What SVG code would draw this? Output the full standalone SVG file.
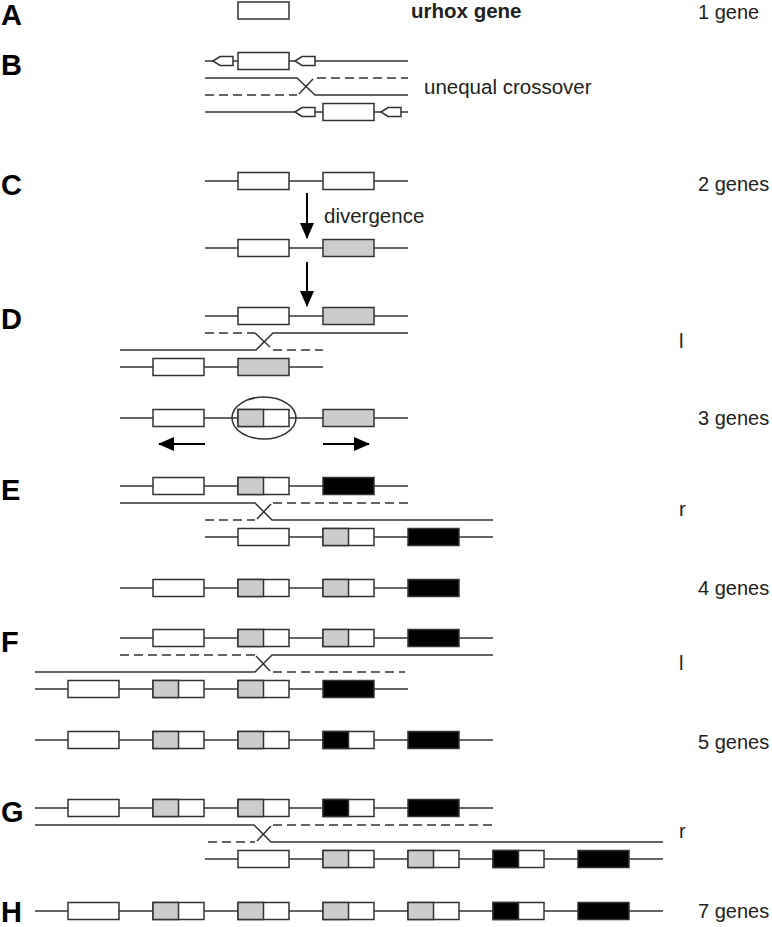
<svg xmlns="http://www.w3.org/2000/svg" xmlns:xlink="http://www.w3.org/1999/xlink" width="772" height="927" viewBox="0 0 772 927">
<style>
  .ln { stroke:#333; stroke-width:1.5; fill:none; }
  .ds { stroke:#333; stroke-width:1.5; fill:none; stroke-dasharray:9,5; }
  .w { fill:#fff; stroke:#333; stroke-width:1.5; }
  .g { fill:#ccc; stroke:#333; stroke-width:1.5; }
  .b { fill:#000; stroke:#333; stroke-width:1.5; }
  .let { font-family:"Liberation Sans", Arial, sans-serif; font-weight:bold; font-size:29px; fill:#000; }
  .lab { font-family:"Liberation Sans", Arial, sans-serif; font-size:20.5px; fill:#222; }
  .rl { font-family:"Liberation Sans", Arial, sans-serif; font-size:20px; fill:#222; }
  .arr { stroke:#000; stroke-width:2; fill:none; }
</style>
<defs>
  <marker id="ah" viewBox="0 0 16 14" refX="15" refY="7" markerWidth="16" markerHeight="14" markerUnits="userSpaceOnUse" orient="auto">
    <path d="M0,0 L16,7 L0,14 Z" fill="#000"/>
  </marker>
  <path id="pent" d="M0,0 L7,-4.5 L20,-4.5 L20,4.5 L7,4.5 Z" fill="#fff" stroke="#333" stroke-width="1.5"/>
  <rect id="bw" x="0" y="-8.5" width="51" height="17" class="w"/>
  <rect id="bg" x="0" y="-8.5" width="51" height="17" class="g"/>
  <rect id="bb" x="0" y="-8.5" width="51" height="17" class="b"/>
  <g id="bgw"><rect x="0" y="-8.5" width="51" height="17" class="w"/><rect x="0" y="-8.5" width="25.5" height="17" class="g"/></g>
  <g id="bbw"><rect x="0" y="-8.5" width="51" height="17" class="w"/><rect x="0" y="-8.5" width="25.5" height="17" class="b"/></g>
</defs>

<g id="letters">
  <text class="let" x="1" y="25">A</text>
  <text class="let" x="1" y="75">B</text>
  <text class="let" x="1" y="195">C</text>
  <text class="let" x="1" y="329">D</text>
  <text class="let" x="1" y="500">E</text>
  <text class="let" x="1" y="652">F</text>
  <text class="let" x="1" y="822">G</text>
  <text class="let" x="1" y="922">H</text>
</g>

<g id="labels">
  <text class="lab" x="411" y="18" font-weight="bold" font-size="21">urhox gene</text>
  <text class="rl" x="698" y="19">1 gene</text>
  <text class="lab" x="424" y="94">unequal crossover</text>
  <text class="rl" x="698" y="191">2 genes</text>
  <text class="lab" x="324" y="223">divergence</text>
  <text class="rl" x="679" y="348">l</text>
  <text class="rl" x="698" y="425">3 genes</text>
  <text class="rl" x="679" y="516">r</text>
  <text class="rl" x="698" y="595">4 genes</text>
  <text class="rl" x="679" y="670">l</text>
  <text class="rl" x="698" y="749">5 genes</text>
  <text class="rl" x="679" y="838">r</text>
  <text class="rl" x="698" y="918">7 genes</text>
</g>

<g id="connectors">
  <path class="ln" d="M205,78 H297 L315,95 H408"/>
  <path class="ds" d="M205,95 H297"/>
  <path class="ln" d="M299,94 L313,79"/>
  <path class="ds" d="M317,78 H408"/>
  <line class="arr" x1="307" y1="193" x2="307" y2="238" marker-end="url(#ah)"/>
  <line class="arr" x1="307" y1="262" x2="307" y2="306" marker-end="url(#ah)"/>
  <path class="ds" d="M205,333 H255"/>
  <path class="ln" d="M255,333 L270,347"/>
  <path class="ds" d="M273,350 H323"/>
  <path class="ln" d="M120,350 H256 L273,333 H408"/>
  <line class="arr" x1="205" y1="444" x2="159" y2="444" marker-end="url(#ah)"/>
  <line class="arr" x1="323" y1="444" x2="369" y2="444" marker-end="url(#ah)"/>
  <path class="ln" d="M120,503 H255 L272,520 H493"/>
  <path class="ds" d="M205,520 H255"/>
  <path class="ln" d="M257,519 L271,504"/>
  <path class="ds" d="M273,503 H408"/>
  <path class="ds" d="M120,655 H255"/>
  <path class="ln" d="M256,656 L270,671"/>
  <path class="ds" d="M273,672 H405"/>
  <path class="ln" d="M35,672 H255 L272,655 H493"/>
  <path class="ln" d="M35,825 H254 L271,842 H663"/>
  <path class="ds" d="M208,842 H255"/>
  <path class="ln" d="M257,841 L271,826"/>
  <path class="ds" d="M273,825 H493"/>
</g>

<g id="rowA">
  <rect x="238" y="2" width="51" height="17" class="w"/>
</g>

<g id="rowB1">
  <line class="ln" x1="205" y1="61" x2="408" y2="61"/>
  <use xlink:href="#pent" x="213" y="61"/>
  <use xlink:href="#bw" x="238" y="61"/>
  <use xlink:href="#pent" x="295" y="61"/>
</g>
<g id="rowB3">
  <line class="ln" x1="205" y1="112" x2="408" y2="112"/>
  <use xlink:href="#pent" x="295" y="112"/>
  <use xlink:href="#bw" x="323" y="112"/>
  <use xlink:href="#pent" x="381" y="112"/>
</g>

<g id="rowC1">
  <line class="ln" x1="205" y1="181" x2="408" y2="181"/>
  <use xlink:href="#bw" x="238" y="181"/>
  <use xlink:href="#bw" x="323" y="181"/>
</g>
<g id="rowC2">
  <line class="ln" x1="205" y1="248" x2="408" y2="248"/>
  <use xlink:href="#bw" x="238" y="248"/>
  <use xlink:href="#bg" x="323" y="248"/>
</g>

<g id="rowD1">
  <line class="ln" x1="205" y1="316" x2="408" y2="316"/>
  <use xlink:href="#bw" x="238" y="316"/>
  <use xlink:href="#bg" x="323" y="316"/>
</g>
<g id="rowD3">
  <line class="ln" x1="120" y1="367" x2="323" y2="367"/>
  <use xlink:href="#bw" x="153" y="367"/>
  <use xlink:href="#bg" x="238" y="367"/>
</g>
<g id="rowD4">
  <line class="ln" x1="120" y1="418" x2="408" y2="418"/>
  <use xlink:href="#bw" x="153" y="418"/>
  <use xlink:href="#bgw" x="238" y="418"/>
  <use xlink:href="#bg" x="323" y="418"/>
  <ellipse cx="264" cy="418" rx="32" ry="21" class="ln"/>
</g>

<g id="rowE1">
  <line class="ln" x1="120" y1="486" x2="408" y2="486"/>
  <use xlink:href="#bw" x="153" y="486"/>
  <use xlink:href="#bgw" x="238" y="486"/>
  <use xlink:href="#bb" x="323" y="486"/>
</g>
<g id="rowE3">
  <line class="ln" x1="205" y1="537" x2="493" y2="537"/>
  <use xlink:href="#bw" x="238" y="537"/>
  <use xlink:href="#bgw" x="323" y="537"/>
  <use xlink:href="#bb" x="408" y="537"/>
</g>
<g id="rowE4">
  <line class="ln" x1="120" y1="588" x2="459" y2="588"/>
  <use xlink:href="#bw" x="153" y="588"/>
  <use xlink:href="#bgw" x="238" y="588"/>
  <use xlink:href="#bgw" x="323" y="588"/>
  <use xlink:href="#bb" x="408" y="588"/>
</g>

<g id="rowF1">
  <line class="ln" x1="120" y1="638" x2="493" y2="638"/>
  <use xlink:href="#bw" x="153" y="638"/>
  <use xlink:href="#bgw" x="238" y="638"/>
  <use xlink:href="#bgw" x="323" y="638"/>
  <use xlink:href="#bb" x="408" y="638"/>
</g>
<g id="rowF3">
  <line class="ln" x1="35" y1="689" x2="408" y2="689"/>
  <use xlink:href="#bw" x="68" y="689"/>
  <use xlink:href="#bgw" x="153" y="689"/>
  <use xlink:href="#bgw" x="238" y="689"/>
  <use xlink:href="#bb" x="323" y="689"/>
</g>
<g id="rowF4">
  <line class="ln" x1="35" y1="740" x2="493" y2="740"/>
  <use xlink:href="#bw" x="68" y="740"/>
  <use xlink:href="#bgw" x="153" y="740"/>
  <use xlink:href="#bgw" x="238" y="740"/>
  <use xlink:href="#bbw" x="323" y="740"/>
  <use xlink:href="#bb" x="408" y="740"/>
</g>

<g id="rowG1">
  <line class="ln" x1="35" y1="808" x2="493" y2="808"/>
  <use xlink:href="#bw" x="68" y="808"/>
  <use xlink:href="#bgw" x="153" y="808"/>
  <use xlink:href="#bgw" x="238" y="808"/>
  <use xlink:href="#bbw" x="323" y="808"/>
  <use xlink:href="#bb" x="408" y="808"/>
</g>
<g id="rowG3">
  <line class="ln" x1="205" y1="859" x2="663" y2="859"/>
  <use xlink:href="#bw" x="238" y="859"/>
  <use xlink:href="#bgw" x="323" y="859"/>
  <use xlink:href="#bgw" x="408" y="859"/>
  <use xlink:href="#bbw" x="493" y="859"/>
  <use xlink:href="#bb" x="578" y="859"/>
</g>

<g id="rowH">
  <line class="ln" x1="35" y1="911" x2="663" y2="911"/>
  <use xlink:href="#bw" x="68" y="911"/>
  <use xlink:href="#bgw" x="153" y="911"/>
  <use xlink:href="#bgw" x="238" y="911"/>
  <use xlink:href="#bgw" x="323" y="911"/>
  <use xlink:href="#bgw" x="408" y="911"/>
  <use xlink:href="#bbw" x="493" y="911"/>
  <use xlink:href="#bb" x="578" y="911"/>
</g>
</svg>
